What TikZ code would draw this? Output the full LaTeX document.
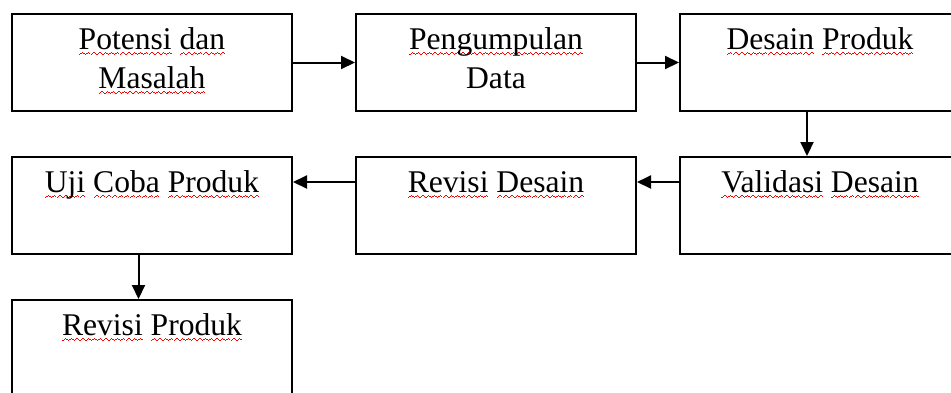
\documentclass[tikz,border=0pt]{standalone}
\usepackage{fontspec}
\setmainfont{Liberation Serif}
\usepackage{xcolor}
\usetikzlibrary{arrows.meta,positioning}

% red spell-check wave under a word
\newcommand{\wavebit}{\hbox{\rule{0.7pt}{0.75pt}\rule[0.45pt]{0.7pt}{0.75pt}\rule[0.9pt]{0.7pt}{0.75pt}\rule[0.45pt]{0.7pt}{0.75pt}}}
\newcommand{\typo}[1]{\setbox0\hbox{#1}\rlap{\color{red}\lower3pt\hbox to\wd0{\xleaders\wavebit\hfill}}#1}

\tikzset{
  stage/.style={draw, line width=1pt, minimum width=140pt, align=center,
    inner xsep=0pt, inner ysep=0pt, text height=17.5pt, text depth=31pt,
    font=\fontsize{15.8pt}{19.5pt}\selectfont},
  stagetwo/.style={stage, text height=37pt, text depth=11.5pt},
  flow/.style={-{Triangle[length=7pt,width=6.5pt]}, line width=1pt}
}

\begin{document}
\begin{tikzpicture}
      \useasboundingbox (0,0) rectangle (475.5pt,-196pt);
      \clip (0,0) rectangle (475.5pt,-196pt);

      \node[stagetwo, anchor=north west] (potensi) at (5.5pt,-6.5pt) {\typo{Potensi} \typo{dan}\\\typo{Masalah}};
      \node[stagetwo, right=31pt of potensi] (data) {\typo{Pengumpulan}\\Data};
      \node[stage, right=21pt of data] (desain) {\typo{Desain} \typo{Produk}};

      \node[stage, below=22pt of desain] (validasi) {\typo{Validasi} \typo{Desain}};
      \node[stage, below=22pt of data] (revisi) {\typo{Revisi} \typo{Desain}};
      \node[stage, below=22pt of potensi] (ujicoba) {\typo{Uji} \typo{Coba} \typo{Produk}};

      \node[stage, below=22pt of ujicoba] (revproduk) {\typo{Revisi} \typo{Produk}};

      \draw[flow] (potensi.east) -- (data.west);
      \draw[flow] (data.east) -- (desain.west);
      \draw[flow] ([xshift=-6.5pt]desain.south) -- ([xshift=-6.5pt]validasi.north);
      \draw[flow] ([yshift=11.75pt]validasi.west) -- ([yshift=11.75pt]revisi.east);
      \draw[flow] ([yshift=11.75pt]revisi.west) -- ([yshift=11.75pt]ujicoba.east);
      \draw[flow] ([xshift=-6.75pt]ujicoba.south) -- ([xshift=-6.75pt]revproduk.north);
    \end{tikzpicture}
\end{document}
